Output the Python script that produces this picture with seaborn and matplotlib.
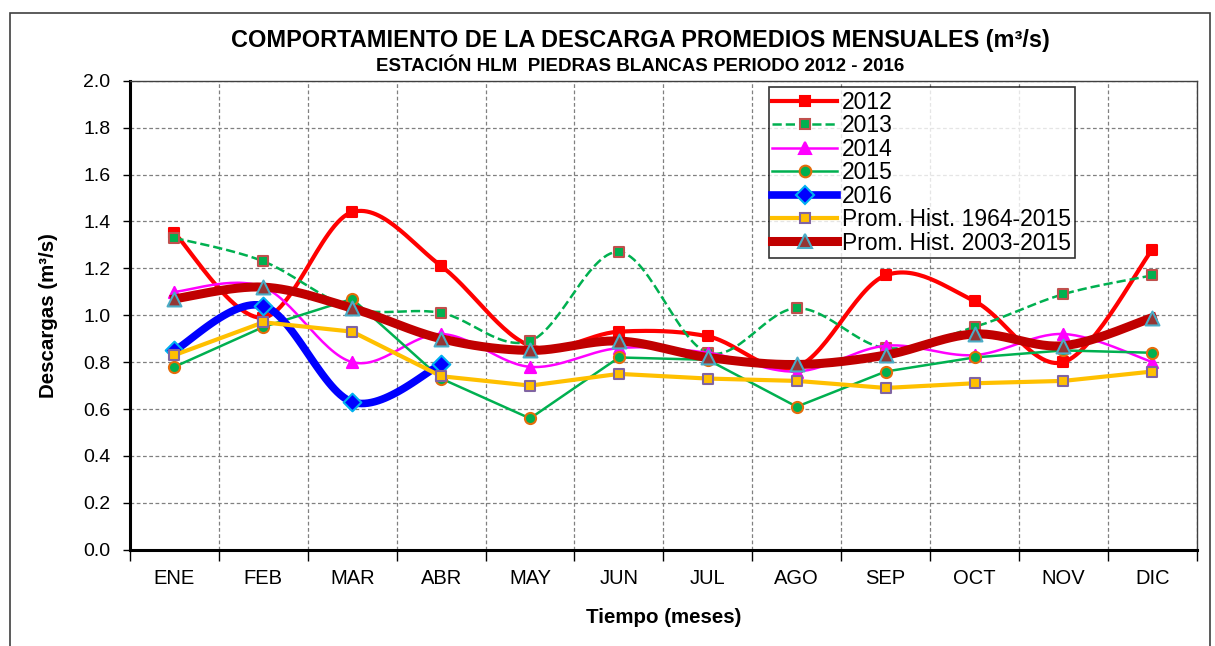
import numpy as np
import pandas as pd
import seaborn as sns
import matplotlib
matplotlib.use("Agg")
from matplotlib import pyplot as plt
from matplotlib.lines import Line2D
from matplotlib.patches import Rectangle

meses = ["ENE", "FEB", "MAR", "ABR", "MAY", "JUN", "JUL", "AGO", "SEP", "OCT", "NOV", "DIC"]

q2012 = [1.35, 0.99, 1.44, 1.21, 0.87, 0.93, 0.91, 0.78, 1.17, 1.06, 0.80, 1.28]
q2013 = [1.33, 1.23, 1.03, 1.01, 0.89, 1.27, 0.84, 1.03, 0.86, 0.95, 1.09, 1.17]
q2014 = [1.10, 1.12, 0.80, 0.92, 0.78, 0.86, 0.84, 0.76, 0.87, 0.83, 0.92, 0.80]
q2015 = [0.78, 0.95, 1.07, 0.73, 0.56, 0.82, 0.81, 0.61, 0.76, 0.82, 0.85, 0.84]
q2016 = [0.85, 1.04, 0.63, 0.79]
prom_1964 = [0.83, 0.97, 0.93, 0.74, 0.70, 0.75, 0.73, 0.72, 0.69, 0.71, 0.72, 0.76]
prom_2003 = [1.07, 1.12, 1.03, 0.90, 0.85, 0.89, 0.82, 0.79, 0.83, 0.92, 0.87, 0.99]


def suavizar(y, n=30):
    # curva suavizada tipo Excel (bezier con tension 1/6)
    x = np.arange(len(y), dtype=float)
    y = np.asarray(y, dtype=float)
    xs, ys = [], []
    for i in range(len(y) - 1):
        p0 = max(i - 1, 0); p3 = min(i + 2, len(y) - 1)
        c1x = x[i] + (x[i + 1] - x[p0]) / 6; c1y = y[i] + (y[i + 1] - y[p0]) / 6
        c2x = x[i + 1] - (x[p3] - x[i]) / 6; c2y = y[i + 1] - (y[p3] - y[i]) / 6
        t = np.linspace(0, 1, n, endpoint=False)
        b = [(1 - t) ** 3, 3 * (1 - t) ** 2 * t, 3 * (1 - t) * t ** 2, t ** 3]
        xs.append(b[0] * x[i] + b[1] * c1x + b[2] * c2x + b[3] * x[i + 1])
        ys.append(b[0] * y[i] + b[1] * c1y + b[2] * c2y + b[3] * y[i + 1])
    xs.append([x[-1]]); ys.append([y[-1]])
    return np.concatenate(xs), np.concatenate(ys)


series = [
    # nombre, datos, color linea, ancho, estilo, marcador, cara, borde, tam, suave
    ("2012", q2012, "#FF0000", 3.0, "-", "s", "#FF0000", "#FF0000", 7, True),
    ("2013", q2013, "#00B050", 1.8, "--", "s", "#00B050", "#C0504D", 7, True),
    ("2014", q2014, "#FF00FF", 1.8, "-", "^", "#FF00FF", "#FF00FF", 8, True),
    ("2015", q2015, "#00B050", 1.8, "-", "o", "#00B050", "#E46C0A", 8, False),
    ("2016", q2016, "#0000FF", 5.5, "-", "D", "#0000FF", "#00B0F0", 9, True),
    ("Prom. Hist. 1964-2015", prom_1964, "#FFC000", 3.0, "-", "s", "#FFC000", "#8064A2", 7, False),
    ("Prom. Hist. 2003-2015", prom_2003, "#C00000", 6.5, "-", "^", "#943634", "#4BACC6", 10, True),
]

plt.rcParams["font.family"] = ["Liberation Sans", "DejaVu Sans"]
fig, ax = plt.subplots(figsize=(12.15, 6.46), dpi=100)
fig.subplots_adjust(left=0.107, right=0.985, top=0.875, bottom=0.149)

handles = []
for k, (nom, datos, col, lw, ls, mk, fc, ec, ms, suave) in enumerate(series):
    if suave:
        xs, ys = suavizar(datos)
    else:
        xs, ys = np.arange(len(datos), dtype=float), np.asarray(datos)
    df = pd.DataFrame({"x": xs, "y": ys})
    sns.lineplot(data=df, x="x", y="y", ax=ax, color=col, lw=lw, linestyle=ls,
                 zorder=3 + k, sort=False, estimator=None)
    dp = pd.DataFrame({"x": np.arange(len(datos)), "y": datos})
    sns.scatterplot(data=dp, x="x", y="y", ax=ax, marker=mk, color=fc, edgecolor=ec,
                    linewidth=1.5, s=ms ** 2, zorder=3.5 + k)
    handles.append(Line2D([], [], color=col, lw=lw, linestyle=ls, marker=mk,
                          markerfacecolor=fc, markeredgecolor=ec, markersize=ms * 1.05,
                          markeredgewidth=1.5, label=nom))

ax.set_xlim(-0.5, 11.5)
ax.set_ylim(0, 2.0)
ax.set_yticks(np.arange(0, 2.01, 0.2))
ax.set_yticklabels([f"{v:.1f}" for v in np.arange(0, 2.01, 0.2)], fontsize=14)
ax.set_xticks(np.arange(12))
ax.set_xticklabels(meses, fontsize=14.5)
ax.tick_params(axis="x", length=0, pad=14)
ax.set_xticks(np.arange(-0.5, 12, 1), minor=True)
ax.tick_params(axis="x", which="minor", length=8, width=1, direction="out")
ax.tick_params(axis="y", length=5, width=1, direction="out", pad=9)
ax.grid(False)
ax.grid(True, which="minor", axis="x", color="#808080", ls=(0, (3, 2)), lw=0.9)
ax.grid(True, which="major", axis="y", color="#808080", ls=(0, (3, 2)), lw=0.9)
ax.set_axisbelow(True)

for s in ["left", "bottom"]:
    ax.spines[s].set_linewidth(2.2)
    ax.spines[s].set_color("black")
for s in ["top", "right"]:
    ax.spines[s].set_linewidth(1.0)
    ax.spines[s].set_color("#404040")

ax.set_xlabel("Tiempo (meses)", fontsize=14.8, fontweight="bold", labelpad=14)
ax.set_ylabel("Descargas (m³/s)", fontsize=14.8, fontweight="bold", labelpad=18)

fig.text(0.527, 0.938, "COMPORTAMIENTO DE LA DESCARGA PROMEDIOS MENSUALES (m³/s)",
         ha="center", va="center", fontsize=16.9, fontweight="bold")
fig.text(0.527, 0.897, "ESTACIÓN HLM  PIEDRAS BLANCAS PERIODO 2012 - 2016",
         ha="center", va="center", fontsize=13.5, fontweight="bold")

leg = ax.legend(handles=handles, loc="upper left", bbox_to_anchor=(0.599, 0.986),
                fontsize=16.5, frameon=True, fancybox=False, edgecolor="black",
                handlelength=2.8, handletextpad=0.25, labelspacing=0.02,
                borderpad=0.15, borderaxespad=0)
leg.get_frame().set_linewidth(1.2)
leg.set_zorder(20)

fig.patches.append(Rectangle((0.008, -0.01), 0.988, 0.99, transform=fig.transFigure,
                             fill=False, edgecolor="#404040", lw=1.2))

fig.savefig("out.png", dpi=100)
